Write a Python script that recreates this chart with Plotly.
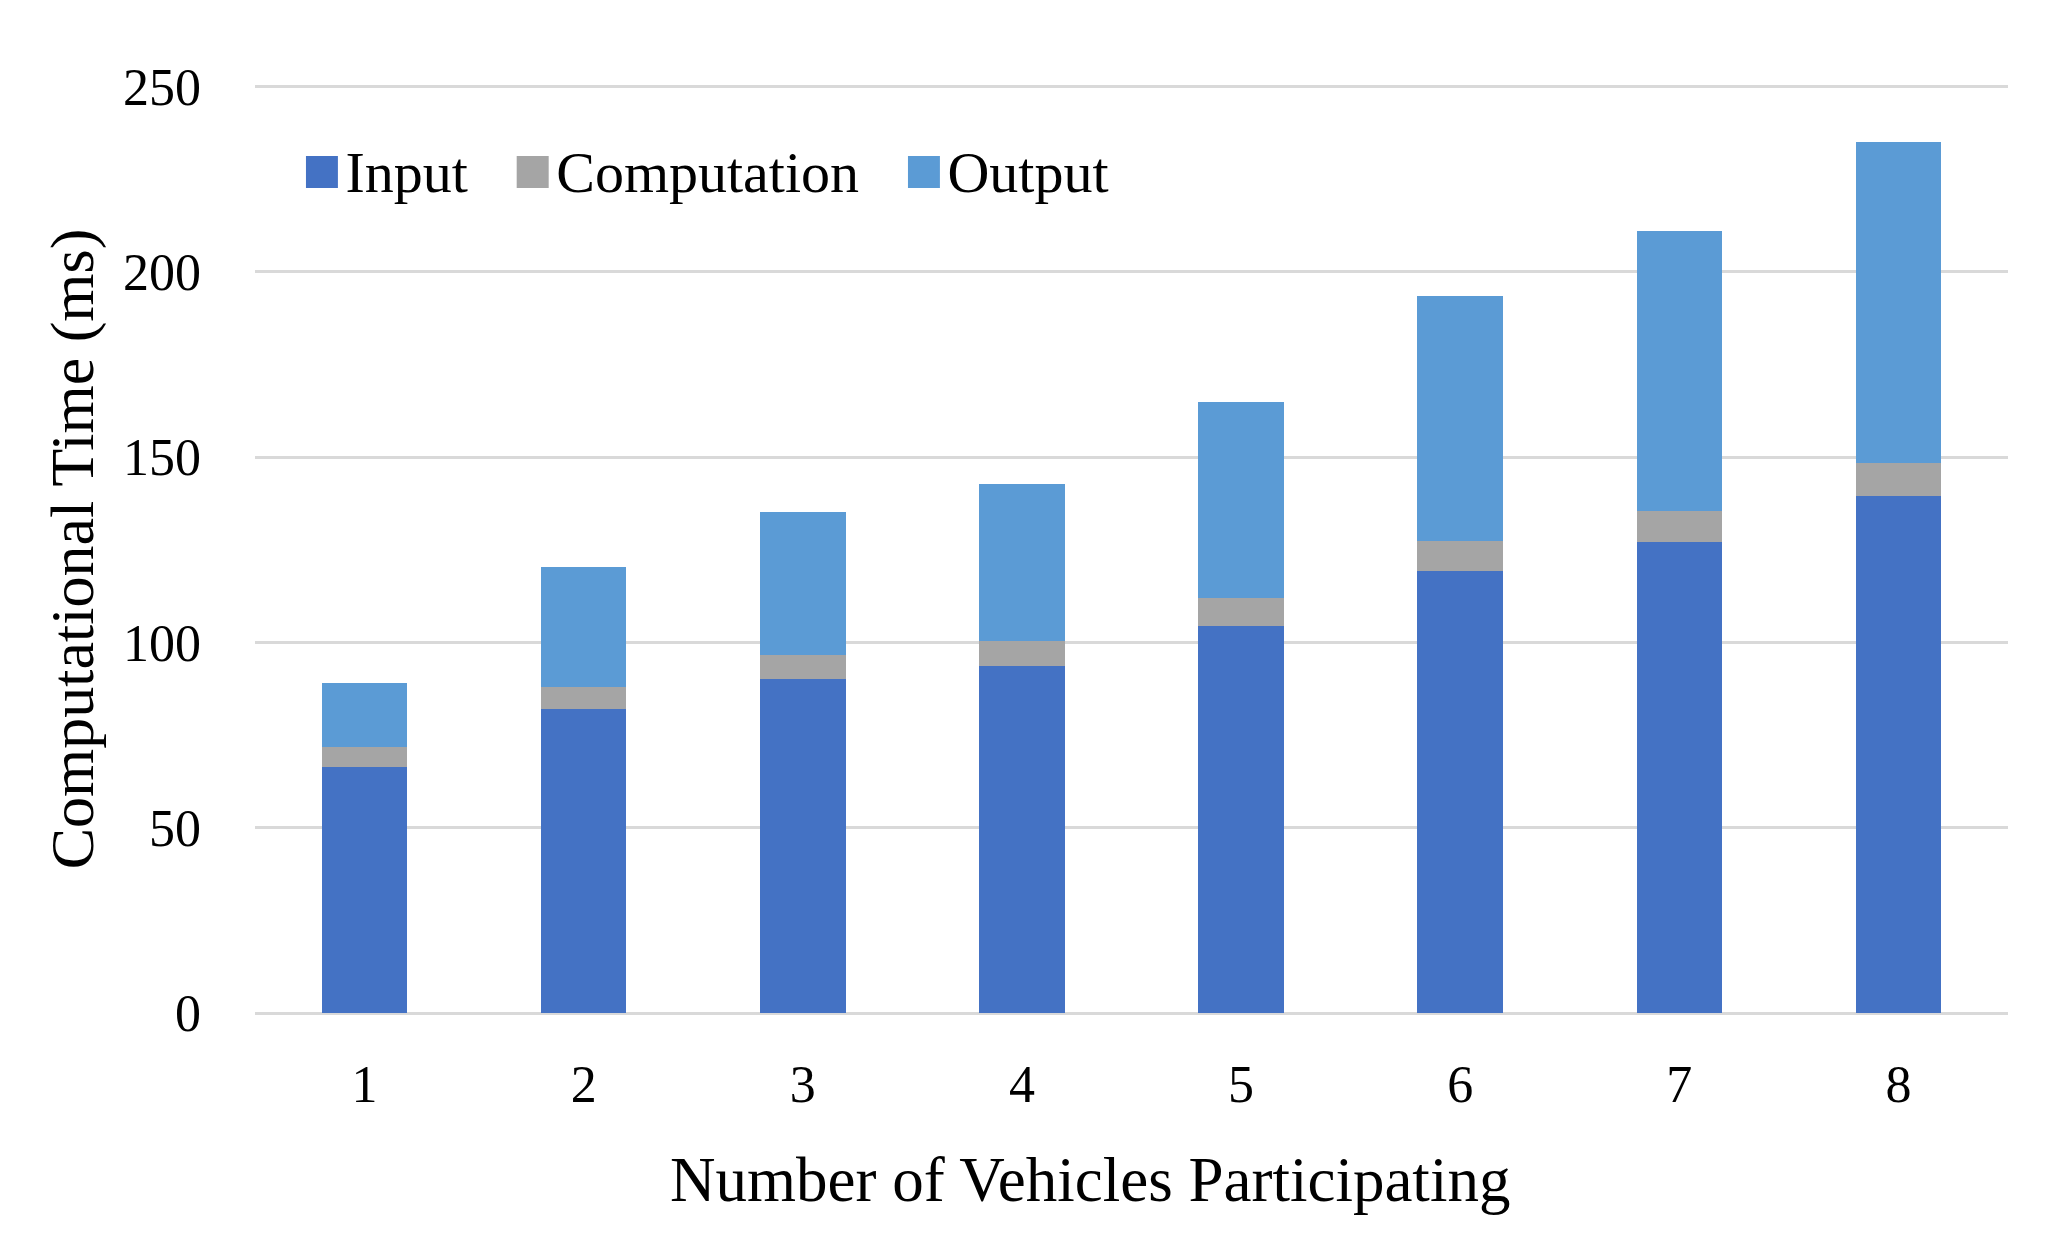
import plotly.graph_objects as go

categories = ["1", "2", "3", "4", "5", "6", "7", "8"]
input_ms = [66.5, 82.0, 90.0, 93.5, 104.5, 119.3, 127.0, 139.5]
computation_ms = [5.2, 6.0, 6.5, 7.0, 7.5, 8.0, 8.4, 8.9]
output_ms = [17.3, 32.4, 38.8, 42.3, 52.8, 66.2, 75.7, 86.5]
y_ticks = [0, 50, 100, 150, 200, 250]

series_names = ["Input", "Computation", "Output"]
series_values = [input_ms, computation_ms, output_ms]
series_colors = ["#4472C4", "#A5A5A5", "#5B9BD5"]

FONT = "Liberation Serif, Times New Roman, serif"

fig = go.Figure()
for name, vals, col in zip(series_names, series_values, series_colors):
    fig.add_trace(go.Bar(x=categories, y=vals, name=name, legendgroup=name,
                         showlegend=False,
                         marker=dict(color=col, line=dict(width=0))))
# legend entries with large square swatches
for name, col in zip(series_names, series_colors):
    fig.add_trace(go.Scatter(
        x=[None], y=[None], mode="lines", line=dict(width=0, color=col),
        legendgroup=name, showlegend=True, hoverinfo="skip",
        name=(f"<span style='color:{col};font-size:66px'>■</span>"
              f"<span style='font-size:14px'> </span>{name}")))

fig.update_layout(
    barmode="stack",
    bargap=0.61,
    width=2056, height=1248,
    margin=dict(l=247, r=56, t=77, b=243, autoexpand=False),
    plot_bgcolor="white", paper_bgcolor="white",
    font=dict(family=FONT, color="black", size=52),
    legend=dict(orientation="h", x=0.0040, y=0.909, xanchor="left", yanchor="middle",
                font=dict(family=FONT, size=58, color="black"),
                bgcolor="rgba(0,0,0,0)", traceorder="normal", itemwidth=30),
    xaxis=dict(
        type="category",
        showgrid=False, showline=False, zeroline=False, ticks="",
        tickfont=dict(family=FONT, size=52, color="black"),
        ticklabelstandoff=36,
    ),
    yaxis=dict(
        range=[0, 250.4], tickvals=y_ticks,
        showgrid=True, gridcolor="#d9d9d9", gridwidth=3,
        zeroline=True, zerolinecolor="#d9d9d9", zerolinewidth=3,
        showline=False, ticks="",
        tickfont=dict(family=FONT, size=52, color="black"),
        ticklabelstandoff=53,
        title=dict(text="Computational Time (ms)",
                   font=dict(family=FONT, size=62, color="black"), standoff=9),
    ),
    annotations=[dict(
        text="Number of Vehicles Participating", showarrow=False,
        xref="paper", yref="paper", x=0.4765, y=0, xanchor="center",
        yanchor="middle", yshift=-167,
        font=dict(family=FONT, size=63, color="black"))],
)

fig.write_html("out.html")
